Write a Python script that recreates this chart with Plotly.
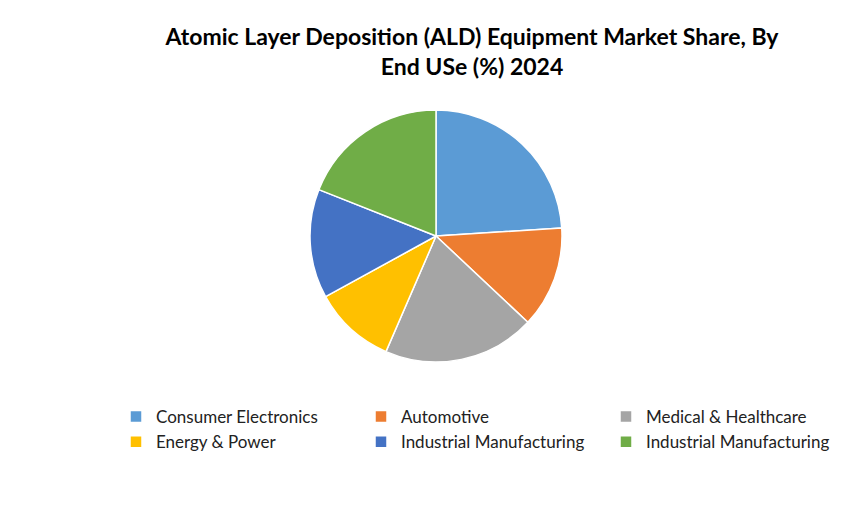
import plotly.graph_objects as go

# slice data, clockwise from 12 o'clock
labels = ["Consumer Electronics", "Automotive", "Medical & Healthcare",
          "Energy & Power", "Industrial Manufacturing", "Industrial Manufacturing "]
shares = [24.0, 13.0, 19.5, 10.5, 14.0, 19.0]
colors = ["#5B9BD5", "#ED7D31", "#A5A5A5", "#FFC000", "#4472C4", "#70AD47"]

W, H = 866, 519
cx, cy, rad = 428, 228, 126

fig = go.Figure(go.Pie(
    labels=labels,
    values=shares,
    sort=False,
    direction="clockwise",
    rotation=0,
    textinfo="none",
    hoverinfo="label+percent",
    marker=dict(colors=colors, line=dict(color="white", width=1.5)),
    domain=dict(x=[(cx - rad) / W, (cx + rad) / W],
                y=[(H - cy - rad) / H, (H - cy + rad) / H]),
))

fig.update_layout(
    width=W, height=H,
    margin=dict(l=0, r=0, t=0, b=0),
    paper_bgcolor="white",
    title=dict(
        text="<b>Atomic Layer Deposition (ALD) Equipment Market Share, By<br>End USe (%) 2024</b>",
        x=464 / W, xanchor="center", y=1 - 37 / H, yanchor="top",
        font=dict(family="Lato", size=23, color="black"),
    ),
    legend=dict(
        orientation="h",
        x=108 / W, xanchor="left",
        y=1 - 391 / H, yanchor="top",
        entrywidth=200, entrywidthmode="pixels",
        itemwidth=30,
        font=dict(family="Lato", size=17, color="#222222"),
        tracegroupgap=0,
    ),
)

fig.write_html("out.html")
